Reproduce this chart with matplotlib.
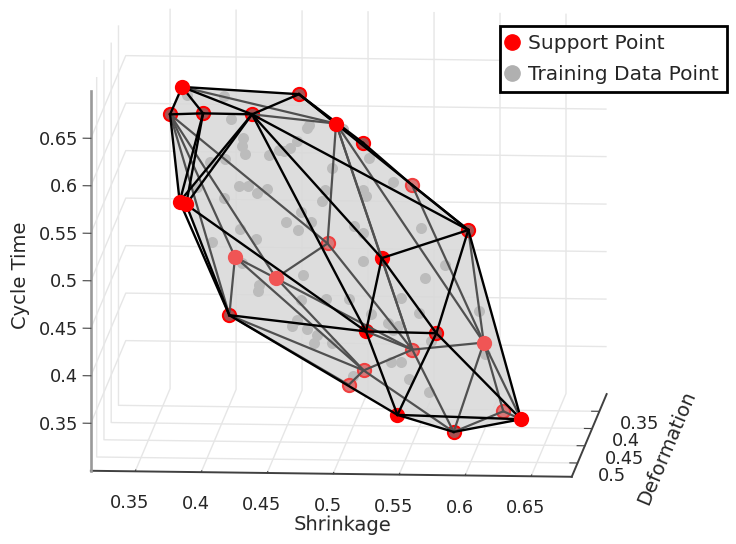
import matplotlib
matplotlib.use('Agg')
import matplotlib.pyplot as plt
from matplotlib.lines import Line2D
from matplotlib.transforms import Affine2D
from mpl_toolkits.mplot3d.art3d import Poly3DCollection

# support points, named A..Z so the mesh edges below can refer to them
names = 'ABCDEFGHIJKLMNOPQRSTUVWXYZ'
shrinkage_sp = [.3811, .3610, .3860, .4253, .4587, .4978, .5094, .5443, .5870, .3793, .3842, .4080, .4781,
                .5302, .4457, .4059, .5205, .5628, .5965, .5424, .5055, .4942, .5443, .5781, .6113, .6380]
deformation_sp = [.50, .40, .40, .42, .40, .50, .42, .40, .40, .50, .50, .38, .38,
                  .48, .44, .40, .50, .40, .38, .38, .38, .38, .50, .42, .38, .50]
cycle_sp = [.6907, .6252, .6267, .6336, .6481, .6541, .6051, .5540, .5074, .5700, .5670, .4687, .4841,
            .5058, .4691, .4146, .4357, .3983, .3818, .3734, .3509, .3355, .3483, .3019, .3097, .3453]

# training data
shrinkage_tr = [.3715, .4063, .4083, .4243, .4109, .4211, .3891, .4071, .4373, .4515, .4430, .4552, .4548, .4690,
                .4676, .5000, .4791, .5153, .5280, .4829, .4770, .5152, .5049, .3850, .4113, .4243, .4283, .4420,
                .3975, .4633, .4654, .4533, .4593, .4218, .4215, .3964, .4984, .5119, .5086, .4235, .5467, .5727,
                .5520, .4660, .4298, .4356, .4556, .4825, .4942, .5402, .5510, .5212, .5909, .5297, .5318, .5341,
                .4581, .4609, .4606, .4759, .4681, .4884, .5598, .6074, .5238, .5396, .5396, .5616, .5005]
deformation_tr = [.38, .44, .41, .47, .36, .43, .38, .44, .41, .47, .36, .43, .38, .44, .41, .47, .36, .43, .38, .44, .41, .47, .36,
                  .43, .38, .44, .41, .47, .36, .43, .38, .44, .41, .47, .36, .43, .38, .44, .41, .47, .36, .43, .38, .44, .41, .47,
                  .36, .43, .38, .44, .41, .47, .36, .43, .38, .44, .41, .47, .36, .43, .38, .44, .41, .47, .36, .43, .38, .44, .41]
cycle_tr = [.6381, .6593, .6244, .6273, .5779, .5952, .5683, .5938, .5871, .6146, .5731, .6018, .5920, .6269,
            .6191, .6374, .5562, .5930, .5496, .5626, .5395, .5734, .5277, .5601, .5439, .5658, .5475, .5736,
            .5230, .5350, .5068, .5279, .5085, .5309, .4801, .5024, .5031, .5173, .4769, .4950, .4939, .4811,
            .4490, .4720, .4501, .4656, .4164, .4439, .4255, .4500, .4230, .4430, .4075, .4197, .3976, .4161,
            .4136, .4296, .3861, .4057, .3788, .4011, .3942, .4029, .3531, .3786, .3424, .3505, .3554]

hull = 'AEIZXWPKJB'
black_edges = 'AE AD AC AB BC CD DE EF EG GH HI EI DJ DK DQ DN DI CJ CK BJ KQ KP JP PQ PW QN NI NR QR QW RI RW RZ IZ WZ WX XZ'.split()
gray_edges = 'AF DF FM FN FS FT HS IS SY SZ ST BM BL BO BP MO MT LT LU OU PU PV LP UV TU UX TX SX XY YZ QT NT'.split()
top_red = 'AFJKZ'
under_red = 'NQW'
dark = 'BCDEGIPRX'
pink_rim = 'HMTUVY'
pink = 'LOS'

xtick_vals = [.35, .4, .45, .5, .55, .6, .65]
xtick_labels = ['0.35', '0.4', '0.45', '0.5', '0.55', '0.6', '0.65']
ytick_vals = [.35, .4, .45, .5]
ytick_labels = ['0.35', '0.4', '0.45', '0.5']

plt.rcParams['font.family'] = 'DejaVu Sans'
plt.rcParams['grid.color'] = '#e6e6e6'
plt.rcParams['grid.linewidth'] = 1.0

fig = plt.figure(figsize=(7.36, 5.44), dpi=100)
ax = fig.add_axes([69.4/736, 22.2/544, 544/736, 1.0], projection='3d', proj_type='ortho', computed_zorder=False)
ax.set_box_aspect((1.25, 1.25, 1), zoom=1.398)
ax.view_init(elev=9.9, azim=-85.85)
ax.set_xlim(0.3164, 0.6808)
ax.set_ylim(0.54, 0.30)
ax.set_zlim(0.30, 0.70)

ax.set_xticks(xtick_vals, xtick_labels)
ax.set_yticks(ytick_vals, ytick_labels)
ax.set_zticks(xtick_vals, xtick_labels)
ax.tick_params(labelsize=12.8, labelcolor='#262626', color='#444444')
ax.zaxis.set_ticks_position('upper')
ax.zaxis.set_label_position('upper')
ax.set_xlabel('Shrinkage', fontsize=14, color='#262626', labelpad=6)
ax.set_ylabel('Deformation', fontsize=14, color='#262626', labelpad=8)
ax.zaxis.set_rotate_label(False)
ax.set_zlabel('Cycle Time', fontsize=14, color='#262626', rotation=90, labelpad=10)
for axis, col, lw in ((ax.xaxis, '#404040', 1.4), (ax.yaxis, '#404040', 1.4), (ax.zaxis, '#999999', 1.9)):
    axis.set_pane_color((1, 1, 1, 0))
    axis.pane.set_edgecolor('none')
    axis.line.set_color(col)
    axis.line.set_linewidth(lw)
    axis._axinfo['tick']['inward_factor'] = 0
    axis._axinfo['tick']['outward_factor'] = 0.2


# mplot3d resets the text transforms while drawing, so nudge just before the text draws
def nudge(txt, dx, dy):
    old_draw = txt.draw

    def draw(renderer):
        txt.set_transform(ax.transData + Affine2D().translate(dx, dy))
        old_draw(renderer)
    txt.draw = draw


for lab in ax.get_xticklabels():
    nudge(lab, -3.5, 3)
for lab in ax.get_yticklabels():
    lab.set_ha('left')
    nudge(lab, -7, 18)
for lab in ax.get_zticklabels():
    lab.set_ha('right')
    nudge(lab, 16, 12)
nudge(ax.xaxis.label, 16, 10)
nudge(ax.yaxis.label, 9, 43)
nudge(ax.zaxis.label, 8, 17)


def idx(c):
    return names.index(c)


def points(group, face, edge, z):
    ii = [idx(c) for c in group]
    ax.scatter([shrinkage_sp[i] for i in ii], [deformation_sp[i] for i in ii], [cycle_sp[i] for i in ii],
               s=90, c=face, edgecolors=edge, linewidths=1.5, depthshade=False, zorder=z)


def edges(pairs, col, lw, z):
    for e in pairs:
        a, b = idx(e[0]), idx(e[1])
        ax.plot([shrinkage_sp[a], shrinkage_sp[b]], [deformation_sp[a], deformation_sp[b]],
                [cycle_sp[a], cycle_sp[b]], color=col, lw=lw, zorder=z)


verts = [[(shrinkage_sp[idx(c)], deformation_sp[idx(c)], cycle_sp[idx(c)]) for c in hull]]
ax.add_collection3d(Poly3DCollection(verts, facecolor='#d8d8d8', edgecolor='none', alpha=0.85, zorder=1))
ax.scatter(shrinkage_tr, deformation_tr, cycle_tr, s=63, c='#bcbcbc', linewidths=0, depthshade=False, zorder=2)

points(dark, '#a85050', '#ff0000', 3)
points(pink_rim, '#d87878', '#f04040', 3)
points(under_red, '#ff0000', '#ff0000', 3)
edges(gray_edges, '#505050', 1.6, 4)
edges(black_edges, 'black', 1.7, 5)
points(pink, '#f05555', '#f05555', 6)
points(top_red, '#ff0000', '#ff0000', 6)

handles = [Line2D([], [], ls='none', marker='o', ms=11, mfc='#ff0000', mec='#ff0000'),
           Line2D([], [], ls='none', marker='o', ms=11, mfc='#b0b0b0', mec='#b0b0b0')]
leg = fig.legend(handles, ['Support Point', 'Training Data Point'], loc='upper left', bbox_to_anchor=(500/736, 1-26/544),
                 fontsize=14.5, fancybox=False, framealpha=1, edgecolor='black', borderaxespad=0, borderpad=0.4,
                 handlelength=0.4, handletextpad=0.6, labelspacing=0.6, labelcolor='#262626')
leg.get_frame().set_linewidth(2.0)

fig.savefig('out.png', dpi=100)
